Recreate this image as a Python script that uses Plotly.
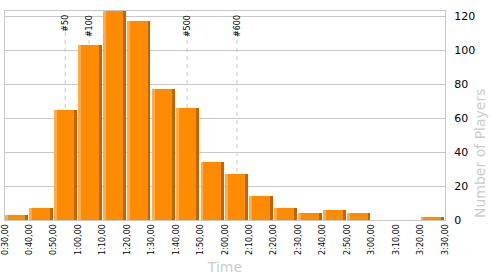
import plotly.graph_objects as go

# ---- data ----
bin_start_min = [30, 40, 50, 60, 70, 80, 90, 100, 110, 120, 130, 140, 150, 160, 170, 180, 190, 200]
players = [3, 7, 65, 103, 125, 117, 77, 66, 34, 27, 14, 7, 4, 6, 4, 0, 0, 2]
tick_vals = [30, 40, 50, 60, 70, 80, 90, 100, 110, 120, 130, 140, 150, 160, 170, 180, 190, 200, 210]
tick_text = ["0:30,00", "0:40,00", "0:50,00", "1:00,00", "1:10,00", "1:20,00", "1:30,00",
             "1:40,00", "1:50,00", "2:00,00", "2:10,00", "2:20,00", "2:30,00", "2:40,00",
             "2:50,00", "3:00,00", "3:10,00", "3:20,00", "3:30,00"]
marker_labels = ["#50", "#100", "#500", "#600"]
marker_min = [54.6, 64.4, 104.5, 124.9]

ORANGE = "#FF8C00"
LIGHT = "#FFAB4A"
DARK = "#C06400"

fig = go.Figure()
n = len(bin_start_min)
# main bars
fig.add_trace(go.Bar(x=bin_start_min, y=players, offset=[0.0]*n, width=[9.5]*n,
                     marker=dict(color=ORANGE, line=dict(width=0)), xaxis="x2", hoverinfo="skip"))
# light left strip
fig.add_trace(go.Bar(x=bin_start_min, y=players, offset=[0.0]*n, width=[1.2]*n,
                     marker=dict(color=LIGHT, line=dict(width=0)), xaxis="x2", hoverinfo="skip"))
# dark right strip
fig.add_trace(go.Bar(x=bin_start_min, y=players, offset=[8.3]*n, width=[1.2]*n,
                     marker=dict(color=DARK, line=dict(width=0)), xaxis="x2", hoverinfo="skip"))

shapes = []
annotations = []
for lab, xm in zip(marker_labels, marker_min):
    shapes.append(dict(type="line", xref="x", yref="paper", x0=xm, x1=xm, y0=0, y1=0.9,
                       line=dict(color="#c8c8c8", width=1, dash="4px,4px"), layer="below"))
    annotations.append(dict(x=xm, xref="x", y=1, yref="paper", yanchor="top", xanchor="center",
                            yshift=-2, text=lab, textangle=-90, showarrow=False,
                            font=dict(family="DejaVu Sans", size=8, color="#000")))

# y-axis title, placed at the bottom end of the axis
annotations.append(dict(x=1, xref="paper", y=0, yref="paper", xanchor="center", yanchor="bottom",
                        xshift=35, yshift=0, text="Number of Players", textangle=-90,
                        showarrow=False,
                        font=dict(family="DejaVu Sans", size=14, color="#cccccc")))

fig.update_layout(
    width=500, height=275,
    margin=dict(l=5, r=55, t=11, b=55),
    paper_bgcolor="white", plot_bgcolor="white",
    barmode="overlay", bargap=0, showlegend=False,
    shapes=shapes, annotations=annotations,
    xaxis=dict(range=[30, 210], tickvals=tick_vals, ticktext=tick_text, tickangle=-90,
               tickfont=dict(family="DejaVu Sans", size=8, color="#000"),
               showgrid=False, zeroline=False, showline=True, mirror=True,
               linecolor="#c8c8c8", linewidth=1, ticks="", automargin=False,
               title=dict(text="Time", font=dict(family="DejaVu Sans", size=14, color="#cccccc"),
                          standoff=9)),
    xaxis2=dict(range=[30, 210], overlaying="x", visible=False),
    yaxis=dict(range=[0, 123], side="right", tickvals=[0, 20, 40, 60, 80, 100, 120],
               tickfont=dict(family="DejaVu Sans", size=11, color="#000"),
               showgrid=True, gridcolor="#c8c8c8", gridwidth=1, zeroline=False,
               showline=True, mirror=True, linecolor="#c8c8c8", linewidth=1, ticks="",
               ticklabelstandoff=6, automargin=False),
)

fig.write_html("out.html")
